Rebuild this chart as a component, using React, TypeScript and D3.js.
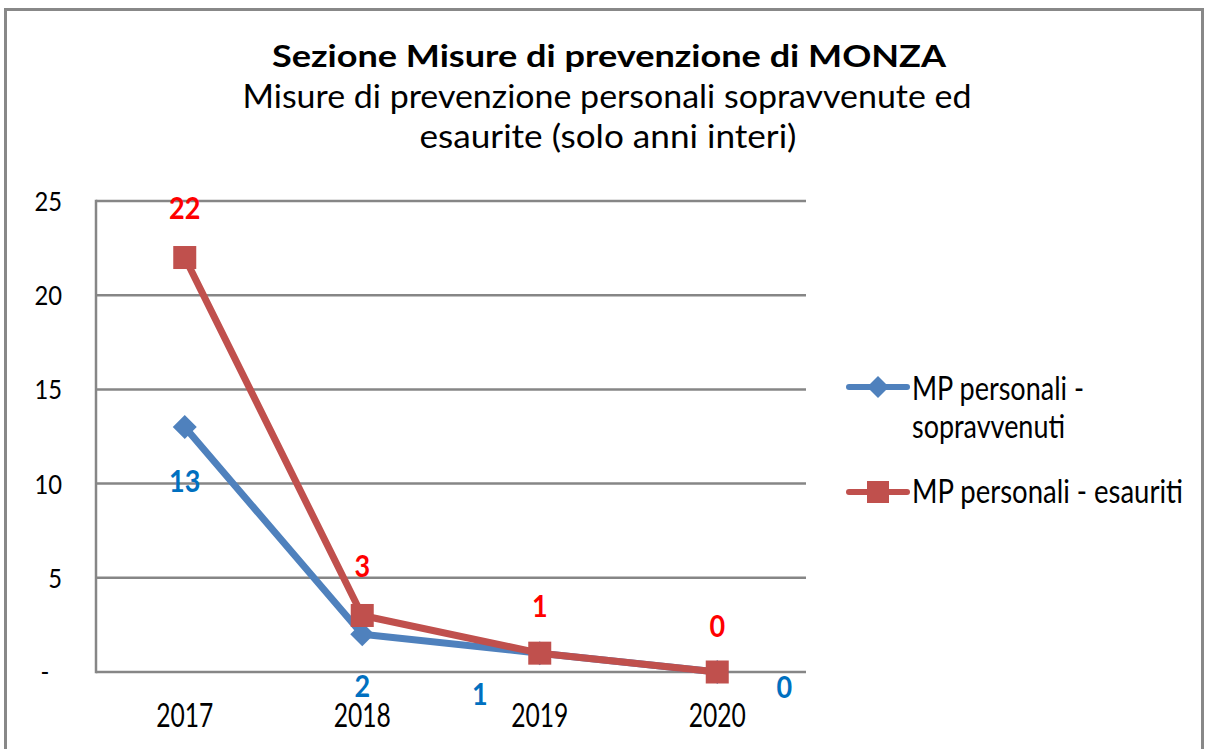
import React from "react";
import * as d3 from "d3";

const years = ["2017", "2018", "2019", "2020"];
const sopravvenuti = [13, 2, 1, 0];
const esauriti = [22, 3, 1, 0];
const yTicks = [0, 5, 10, 15, 20, 25];
const seriesNames = ["MP personali - sopravvenuti", "MP personali - esauriti"];
const titleText = "Sezione Misure di prevenzione di MONZA";
const subtitleLines = ["Misure di prevenzione personali sopravvenute ed", "esaurite (solo anni interi)"];

// label placement offsets (px): [dx, baseline dy] relative to points
const blueLabelOffsets = [[0, 65], [0, 63], [-60, 52], [67, 26]];
const redLabelOffsets = [[0, -39], [0, -38], [0, -36], [0, -35]];

const FONT = "Lato, Carlito, 'Open Sans', sans-serif";
const BLUE = "#4F81BD";
const RED = "#C0504D";
const BLUE_LBL = "#0070C0";
const RED_LBL = "#FF0000";
const GRID = "#868686";

type TP = {
  x: number; y: number; sx?: number; anchor?: string; size: number;
  weight?: string; fill?: string; children: React.ReactNode;
};
const T = ({ x, y, sx = 1, anchor = "start", size, weight = "normal", fill = "#000", children }: TP) => (
  <text transform={`translate(${x},${y}) scale(${sx},1)`} textAnchor={anchor as any}
    fontSize={size} fontWeight={weight} fill={fill}>{children}</text>
);

export default function App() {
  const left = 96, right = 806, top = 201, bottom = 672;
  const x = d3.scaleBand<string>().domain(years).range([left, right]);
  const cx = (d: string) => (x(d) as number) + x.bandwidth() / 2;
  const y = d3.scaleLinear().domain([0, 25]).range([bottom, top]);
  const line = d3.line<number>().x((_, i) => cx(years[i])).y((v) => y(v));

  const diamond = (px: number, py: number, r: number) =>
    `M${px},${py - r}L${px + r},${py}L${px},${py + r}L${px - r},${py}Z`;

  return (
    <div style={{ position: "absolute", left: 0, top: 0 }}>
      <svg width={1208} height={749} style={{ display: "block" }} fontFamily={FONT}>
        <rect x={0} y={0} width={1208} height={749} fill="#fff" />
        <rect x={5.5} y={9.5} width={1197} height={800} fill="#fff" stroke="#888" strokeWidth={3} />

        <text x={609} y={67} textAnchor="middle" fontSize={30} fontWeight="bold" fill="#000"
          textLength={674} lengthAdjust="spacingAndGlyphs">{titleText}</text>
        <text x={607} y={108} textAnchor="middle" fontSize={32} fill="#000"
          textLength={729} lengthAdjust="spacingAndGlyphs">{subtitleLines[0]}</text>
        <text x={608} y={148} textAnchor="middle" fontSize={32} fill="#000"
          textLength={377} lengthAdjust="spacingAndGlyphs">{subtitleLines[1]}</text>

        {/* gridlines */}
        {yTicks.map((t) => (
          <line key={t} x1={left} x2={right} y1={y(t)} y2={y(t)} stroke={GRID} strokeWidth={2.5} />
        ))}
        <line x1={left} x2={left} y1={top - 1.25} y2={bottom + 1.25} stroke={GRID} strokeWidth={2.5} />

        {/* y tick labels */}
        {yTicks.map((t) =>
          t === 0 ? (
            <T key={t} x={45} y={y(t) + 9} anchor="middle" size={27} sx={0.88}>-</T>
          ) : (
            <T key={t} x={62} y={y(t) + 10} anchor="end" size={27} sx={0.88}>{String(t)}</T>
          )
        )}
        {/* x labels */}
        {years.map((yr) => (
          <T key={yr} x={cx(yr)} y={727} anchor="middle" size={32} sx={0.77}>{yr}</T>
        ))}

        {/* lines */}
        <path d={line(sopravvenuti) || ""} fill="none" stroke={BLUE} strokeWidth={7} strokeLinejoin="round" strokeLinecap="round" />
        {sopravvenuti.map((v, i) => (
          <path key={i} d={diamond(cx(years[i]), y(v), 12)} fill={BLUE} />
        ))}
        <path d={line(esauriti) || ""} fill="none" stroke={RED} strokeWidth={7} strokeLinejoin="round" strokeLinecap="round" />
        {esauriti.map((v, i) => (
          <rect key={i} x={cx(years[i]) - 11.5} y={y(v) - 11.5} width={23} height={23} fill={RED} />
        ))}

        {/* data labels */}
        {esauriti.map((v, i) => (
          <T key={i} x={cx(years[i]) + redLabelOffsets[i][0]} y={y(v) + redLabelOffsets[i][1]}
            anchor="middle" size={31} sx={0.87} weight="bold" fill={RED_LBL}>{v}</T>
        ))}
        {sopravvenuti.map((v, i) => (
          <T key={i} x={cx(years[i]) + blueLabelOffsets[i][0]} y={y(v) + blueLabelOffsets[i][1]}
            anchor="middle" size={31} sx={0.87} weight="bold" fill={BLUE_LBL}>{v}</T>
        ))}

        {/* legend */}
        <line x1={849} x2={907} y1={387} y2={387} stroke={BLUE} strokeWidth={6} strokeLinecap="round" />
        <path d={diamond(878, 387, 11)} fill={BLUE} />
        <text x={912} y={400} fontSize={32} fill="#000" textLength={172} lengthAdjust="spacingAndGlyphs">MP personali -</text>
        <text x={912} y={438} fontSize={32} fill="#000" textLength={153} lengthAdjust="spacingAndGlyphs">sopravvenuti</text>
        <line x1={849} x2={907} y1={492} y2={492} stroke={RED} strokeWidth={6} strokeLinecap="round" />
        <rect x={867} y={481} width={22} height={22} fill={RED} />
        <text x={912} y={503} fontSize={32} fill="#000" textLength={271} lengthAdjust="spacingAndGlyphs">{seriesNames[1]}</text>
      </svg>
    </div>
  );
}
